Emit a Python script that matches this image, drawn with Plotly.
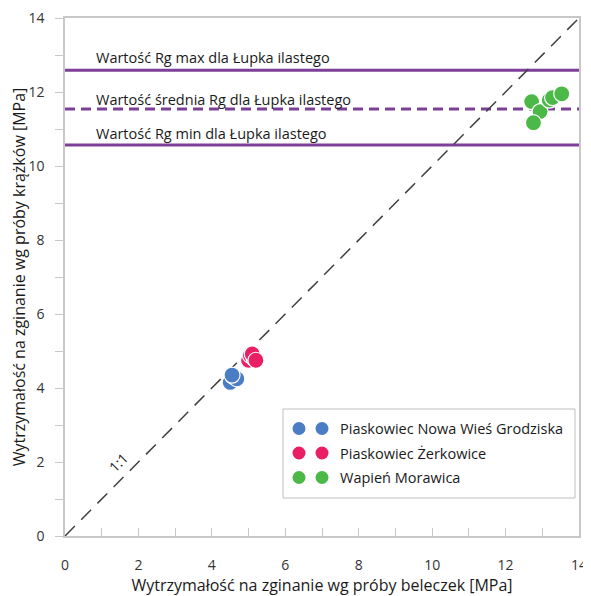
import plotly.graph_objects as go

# Data
series_names = ["Piaskowiec Nowa Wieś Grodziska", "Piaskowiec Żerkowice", "Wapień Morawica"]
blue_x = [4.50, 4.58, 4.68, 4.55]
blue_y = [4.15, 4.32, 4.25, 4.35]
pink_x = [5.00, 5.05, 5.15, 5.10, 5.20]
pink_y = [4.75, 4.88, 4.80, 4.92, 4.75]
green_x = [12.71, 12.94, 12.76, 13.19, 13.28, 13.53]
green_y = [11.74, 11.47, 11.17, 11.78, 11.85, 11.95]
colors = ["#4a7dc4", "#e91e63", "#4cb848"]

rg_max = 12.59
rg_mean = 11.54
rg_min = 10.57
line_labels = ["Wartość Rg max dla Łupka ilastego",
               "Wartość średnia Rg dla Łupka ilastego",
               "Wartość Rg min dla Łupka ilastego"]
one_to_one = [0, 14]

font = "'Open Sans', sans-serif"
purple = "#7e3f98"
OFF = 8  # page body margin
W, H = 591 - OFF, 596 - OFF
ML, MR, MT, MB = 65 - OFF, 12, 18 - OFF, 60
PL, PR, PT, PB = 65, 579, 18, 536  # plot area in page pixels

fig = go.Figure()
# 1:1 line
fig.add_trace(go.Scatter(x=one_to_one, y=one_to_one, mode="lines",
                         line=dict(color="#404040", width=1.5, dash="14px,9px"),
                         showlegend=False, hoverinfo="skip"))
for name, xs, ys, c in zip(series_names, [blue_x, pink_x, green_x], [blue_y, pink_y, green_y], colors):
    fig.add_trace(go.Scatter(x=xs, y=ys, mode="markers", name=name, showlegend=False,
                             marker=dict(color=c, size=16, line=dict(color="white", width=1.2))))

for val, dash in [(rg_max, "solid"), (rg_mean, "10px,6px"), (rg_min, "solid")]:
    fig.add_hline(y=val, line=dict(color=purple, width=3, dash=dash), layer="below")

for lbl, yv in zip(line_labels, [12.92, 11.81, 10.87]):
    fig.add_annotation(x=0.78, y=yv, text=lbl, showarrow=False, xanchor="left", yanchor="middle",
                       font=dict(family=font, size=14.5, color="#1a1a1a"))

fig.add_annotation(x=1.44, y=2.0, text="1:1", showarrow=False, textangle=-45,
                   font=dict(family=font, size=14, color="#1a1a1a"))

# custom legend (two swatches per entry, as in the original)
def px2x(p):
    return (p - PL) / (PR - PL)

def py2y(p):
    return (PB - p) / (PB - PT)

fig.add_shape(type="rect", xref="paper", yref="paper",
              x0=px2x(283), x1=px2x(575), y0=py2y(498), y1=py2y(409),
              line=dict(color="#bfbfbf", width=1), fillcolor="white", layer="above")
r = 6.5
for i, (name, c) in enumerate(zip(series_names, colors)):
    cy = 428.5 + i * 24.5
    for cx in (299, 322):
        fig.add_shape(type="circle", xref="paper", yref="paper",
                      x0=px2x(cx - r), x1=px2x(cx + r), y0=py2y(cy + r), y1=py2y(cy - r),
                      fillcolor=c, line=dict(color=c, width=0), layer="above")
    fig.add_annotation(xref="paper", yref="paper", x=px2x(338), y=py2y(cy), text=name,
                       showarrow=False, xanchor="left", yanchor="middle",
                       font=dict(family=font, size=14.5, color="#1a1a1a"))

axis_common = dict(range=[0, 14], dtick=2, showgrid=False, zeroline=False, automargin=False,
                   showline=True, linecolor="#c8c8c8", linewidth=1.5, mirror=True,
                   ticklabeloverflow="allow",
                   tickfont=dict(family=font, size=14, color="#333333"),
                   tickcolor="#c8c8c8", ticklen=8)
fig.update_xaxes(**axis_common, ticks="inside", ticklabelstandoff=15,
                 minor=dict(dtick=1, ticks="inside", ticklen=8, tickcolor="#c8c8c8"),
                 title=dict(text="Wytrzymałość na zginanie wg próby beleczek [MPa]",
                            font=dict(family=font, size=16, color="#1a1a1a"), standoff=3))
fig.update_yaxes(**axis_common, ticks="outside", ticklabelstandoff=8,
                 minor=dict(dtick=1, ticks="outside", ticklen=8, tickcolor="#c8c8c8"),
                 title=dict(text="Wytrzymałość na zginanie wg próby krążków [MPa]",
                            font=dict(family=font, size=16, color="#1a1a1a"), standoff=4))

fig.update_layout(width=W, height=H, plot_bgcolor="white", paper_bgcolor="white",
                  margin=dict(l=ML, r=MR, t=MT, b=MB), showlegend=False,
                  font=dict(family=font))
fig.write_html("out.html")
